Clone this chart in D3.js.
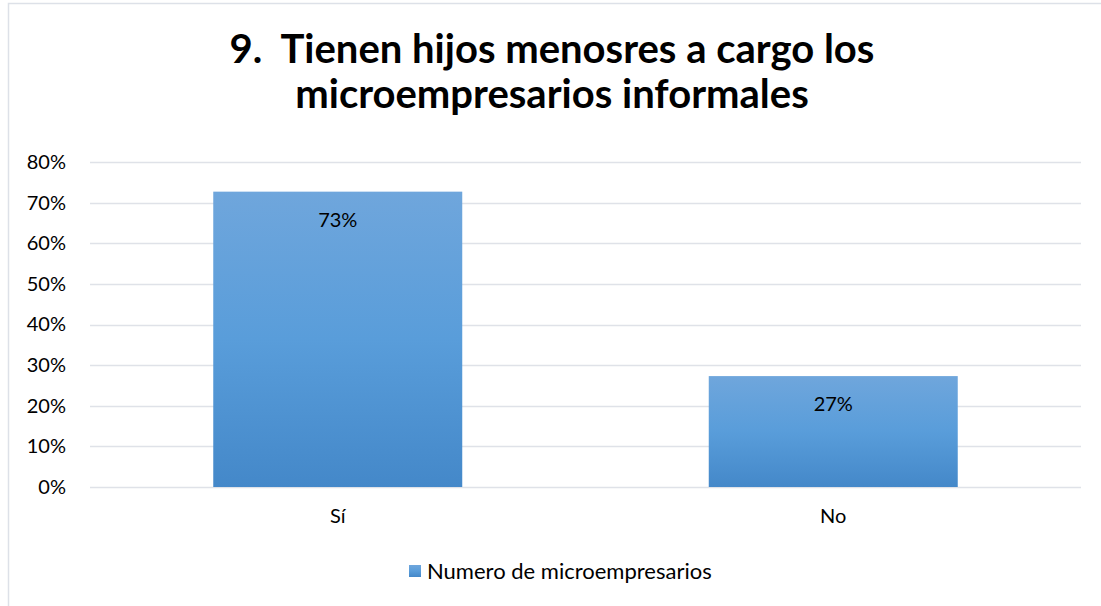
<!DOCTYPE html>
<html>
<head>
<meta charset="utf-8">
<script src="https://cdn.jsdelivr.net/npm/d3@7"></script>
<style>
  body { margin: 0; background: #fff; }
  svg text { font-family: Lato, "Open Sans", sans-serif; fill: #000; }
</style>
</head>
<body>
<svg width="1101" height="606"></svg>
<script>
// datos del gráfico
const categorias = ["Sí", "No"];
const valores = [0.727, 0.273];
const serieNombre = "Numero de microempresarios";
const ticksY = [0, 0.1, 0.2, 0.3, 0.4, 0.5, 0.6, 0.7, 0.8];
const tituloLineas = ["9.  Tienen hijos menosres a cargo los", "microempresarios informales"];

const svg = d3.select("svg");
const width = +svg.attr("width");
const height = +svg.attr("height");
const margin = { top: 162, right: 20, bottom: 119, left: 90 };

// marco del gráfico
svg.append("rect")
  .attr("x", 8.5).attr("y", 3.5)
  .attr("width", width + 20).attr("height", height + 20)
  .attr("fill", "#fff")
  .attr("stroke", "#dde1e8")
  .attr("stroke-width", 1.5);

// gradiente de las barras
const defs = svg.append("defs");
const grad = defs.append("linearGradient")
  .attr("id", "barGrad")
  .attr("x1", 0).attr("y1", 0).attr("x2", 0).attr("y2", 1);
grad.append("stop").attr("offset", "0%").attr("stop-color", "#6fa6dc");
grad.append("stop").attr("offset", "50%").attr("stop-color", "#599dda");
grad.append("stop").attr("offset", "100%").attr("stop-color", "#4488c9");

// título
const titulo = svg.append("text")
  .attr("text-anchor", "middle")
  .attr("font-weight", "bold")
  .attr("font-size", 40)
  .style("white-space", "pre");
tituloLineas.forEach((t, i) => {
  titulo.append("tspan")
    .attr("x", 552)
    .attr("y", 63 + i * 45)
    .text(t);
});

const x = d3.scaleBand()
  .domain(categorias)
  .range([margin.left, width - margin.right])
  .paddingInner(0.4975)
  .paddingOuter(0.24875);

const y = d3.scaleLinear()
  .domain([0, 0.8])
  .range([height - margin.bottom, margin.top]);

// líneas de cuadrícula
svg.append("g")
  .selectAll("line")
  .data(ticksY)
  .join("line")
  .attr("x1", margin.left)
  .attr("x2", width - margin.right)
  .attr("y1", d => Math.round(y(d)) + 0.5)
  .attr("y2", d => Math.round(y(d)) + 0.5)
  .attr("stroke", "#dfe2e8")
  .attr("stroke-width", 1.5);

// eje Y
const yAxis = svg.append("g")
  .attr("transform", `translate(${margin.left},0)`)
  .call(d3.axisLeft(y).tickValues(ticksY).tickFormat(d3.format(".0%")).tickSize(0).tickPadding(24));
yAxis.select(".domain").remove();
yAxis.selectAll("text")
  .attr("font-size", 20)
  .attr("font-family", "Lato, sans-serif")
  .attr("fill", "#000");

// barras
svg.append("g")
  .selectAll("rect")
  .data(valores)
  .join("rect")
  .attr("x", (d, i) => x(categorias[i]))
  .attr("y", d => y(d))
  .attr("width", x.bandwidth())
  .attr("height", d => y(0) - y(d))
  .attr("fill", "url(#barGrad)");

// etiquetas de datos
svg.append("g")
  .selectAll("text")
  .data(valores)
  .join("text")
  .attr("x", (d, i) => x(categorias[i]) + x.bandwidth() / 2)
  .attr("y", d => y(d) + 28)
  .attr("dy", "0.35em")
  .attr("text-anchor", "middle")
  .attr("font-size", 20)
  .text(d => Math.round(d * 100) + "%");

// eje X
const xAxis = svg.append("g")
  .attr("transform", `translate(0,${height - margin.bottom})`)
  .call(d3.axisBottom(x).tickSize(0).tickPadding(22));
xAxis.select(".domain").remove();
xAxis.selectAll("text")
  .attr("font-size", 20)
  .attr("font-family", "Lato, sans-serif")
  .attr("fill", "#000");

// leyenda
const leyenda = svg.append("g").attr("transform", "translate(409,565)");
leyenda.append("rect")
  .attr("width", 12).attr("height", 12)
  .attr("fill", "url(#barGrad)");
leyenda.append("text")
  .attr("x", 18).attr("y", 6)
  .attr("dy", "0.35em")
  .attr("font-size", 22)
  .text(serieNombre);
</script>
</body>
</html>
